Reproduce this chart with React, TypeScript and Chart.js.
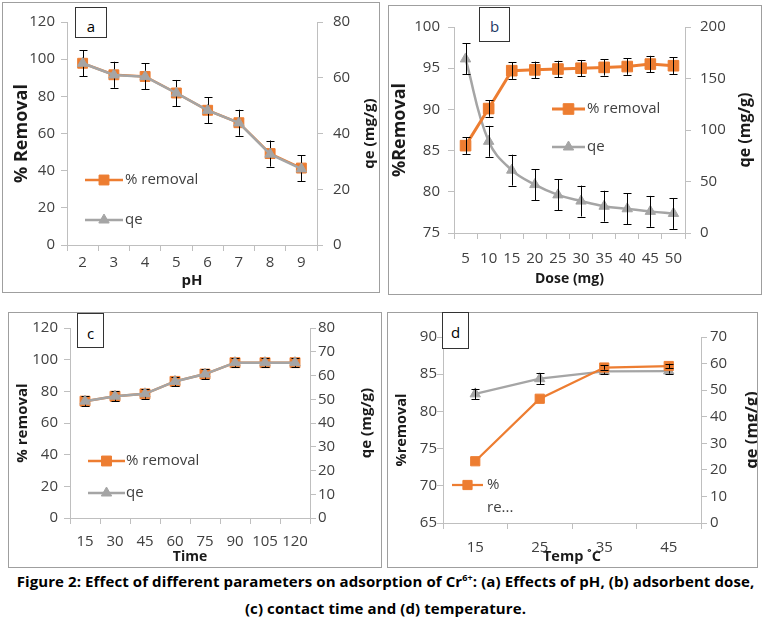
import { useEffect, useRef } from "react"
import { Chart, registerables, type ChartConfiguration, type Plugin } from "chart.js"
import { drawPoint } from "chart.js/helpers"

Chart.register(...registerables)

// (a) effect of pH
const phLabels = ["2", "3", "4", "5", "6", "7", "8", "9"]
const phRemoval = [97.8, 91.6, 90.7, 81.8, 72.5, 65.8, 49.2, 41.4]
const phRemovalErr = [7, 7, 7, 7, 7, 7, 7, 7]
const phQe = [65.2, 61.0, 60.4, 54.5, 48.3, 43.8, 32.6, 27.3]

// (b) adsorbent dose
const doseLabels = ["5", "10", "15", "20", "25", "30", "35", "40", "45", "50"]
const doseRemoval = [85.6, 90.1, 94.7, 94.8, 94.9, 95.0, 95.1, 95.2, 95.5, 95.3]
const doseRemovalErr = [1, 1, 1, 1, 1, 1, 1, 1, 1, 1]
const doseQe = [169, 89, 61, 47, 37, 31, 26, 23.5, 21, 19]
const doseQeErr = [15, 15, 15, 15, 15, 15, 15, 15, 15, 15]

// (c) contact time
const timeLabels = ["15", "30", "45", "60", "75", "90", "105", "120"]
const timeRemoval = [73.8, 76.9, 78.4, 86.3, 90.9, 98.1, 98.1, 98.1]
const timeRemovalErr = [3, 3, 3, 3, 3, 3, 3, 3]
const timeQe = [49.2, 51.3, 52.3, 57.5, 60.6, 65.4, 65.4, 65.4]

// (d) temperature
const tempLabels = ["15", "25", "35", "45"]
const tempRemoval = [73.3, 81.7, 85.9, 86.1]
const tempRemovalErr = [0, 0, 0.3, 0.3]
const tempQe = [48.6, 54.3, 57.1, 57.2]
const tempQeErr = [2, 2, 1, 1]

const ORANGE = "#ED7D31"
const GREY = "#A5A5A5"
const AXIS = "#BFBFBF"
const TICK = "#404040"
const TITLE = "#1A1A1A"
const FONT = "'Open Sans', sans-serif"

type Side = {
  min: number
  max: number
  step: number
  title: string
  titleSize: number
  titlePad: number
  tickPad: number
  width: number
}

type LegendRow = { series: "removal" | "qe"; y: number; text: string[] }

type PanelSpec = {
  letter: string
  letterColor: string
  x: number
  y: number
  w: number
  h: number
  tag: { x: number; y: number; w: number; h: number; pad: number }
  topPad: number
  xTitle: string
  xTitleSize: number
  xTitlePad: number
  xTickPad: number
  xHeight: number
  left: Side
  right: Side
  rightTitleX: number
  labels: string[]
  removal: number[]
  removalErr: number[] | null
  qe: number[]
  qeErr: number[] | null
  removalOnTop: boolean
  lineWidth: number
  qeLineWidth: number
  qeTension: number
  squareR: number
  triR: number
  legend: { x0: number; x1: number; textX: number; rows: LegendRow[] }
}

// error bars drawn right after their own dataset, so later datasets cover them
const errorBars: Plugin<"line"> = {
  id: "errorBars",
  afterDatasetDraw(chart, args) {
    const ds = chart.data.datasets[args.index] as any
    const errs: number[] | null = ds.errors
    if (!errs) return
    const meta = args.meta
    const scale = chart.scales[meta.yAxisID as string]
    const ctx = chart.ctx
    ctx.save()
    ctx.strokeStyle = "#000"
    ctx.lineWidth = 1
    meta.data.forEach((pt, i) => {
      if (!errs[i]) return
      const v = ds.data[i] as number
      const top = scale.getPixelForValue(v + errs[i])
      const bot = scale.getPixelForValue(v - errs[i])
      const x = Math.round(pt.x) + 0.5
      ctx.beginPath()
      ctx.moveTo(x, top)
      ctx.lineTo(x, bot)
      ctx.moveTo(x - 4, Math.round(top) + 0.5)
      ctx.lineTo(x + 4, Math.round(top) + 0.5)
      ctx.moveTo(x - 4, Math.round(bot) + 0.5)
      ctx.lineTo(x + 4, Math.round(bot) + 0.5)
      ctx.stroke()
    })
    ctx.restore()
  },
}

// legend inside the plot area plus the right axis title, which reads bottom-to-top here
function makeOverlay(p: PanelSpec): Plugin<"line"> {
  return {
    id: "overlay",
    afterDraw(chart) {
      const ctx = chart.ctx
      const { x0, x1, textX, rows } = p.legend
      ctx.save()
      rows.forEach((row) => {
        const isRemoval = row.series === "removal"
        const color = isRemoval ? ORANGE : GREY
        ctx.strokeStyle = color
        ctx.fillStyle = color
        ctx.lineWidth = isRemoval ? p.lineWidth : p.qeLineWidth
        ctx.beginPath()
        ctx.moveTo(x0, row.y)
        ctx.lineTo(x1, row.y)
        ctx.stroke()
        ctx.lineWidth = 1
        drawPoint(
          ctx,
          {
            pointStyle: isRemoval ? "rect" : "triangle",
            radius: isRemoval ? p.squareR : p.triR,
            rotation: 0,
            borderWidth: 1,
          },
          (x0 + x1) / 2,
          row.y
        )
        ctx.fillStyle = TICK
        ctx.font = `15px ${FONT}`
        ctx.textBaseline = "middle"
        ctx.textAlign = "left"
        row.text.forEach((t, k) => ctx.fillText(t, textX, row.y + k * 23))
      })

      const area = chart.chartArea
      ctx.translate(p.rightTitleX, (area.top + area.bottom) / 2)
      ctx.rotate(-Math.PI / 2)
      ctx.fillStyle = TITLE
      ctx.font = `bold ${p.right.titleSize}px ${FONT}`
      ctx.textAlign = "center"
      ctx.textBaseline = "middle"
      ctx.fillText(p.right.title, 0, 0)
      ctx.restore()
    },
  }
}

function valueAxis(side: Side, position: "left" | "right") {
  return {
    type: "linear" as const,
    position,
    min: side.min,
    max: side.max,
    afterFit: (s: any) => {
      s.width = side.width
    },
    ticks: {
      stepSize: side.step,
      color: TICK,
      padding: side.tickPad,
      font: { family: FONT, size: 15 },
    },
    grid: {
      drawOnChartArea: false,
      drawTicks: true,
      tickLength: 6,
      color: AXIS,
    },
    border: { display: true, color: AXIS },
    title: {
      display: position === "left",
      text: side.title,
      color: TITLE,
      padding: { top: side.titlePad, bottom: 0 },
      font: { family: FONT, size: side.titleSize, weight: "bold" as const },
    },
  }
}

const panels: PanelSpec[] = [
  {
    letter: "a",
    letterColor: "#000",
    x: 3,
    y: 3,
    w: 376,
    h: 289,
    tag: { x: 75, y: 7, w: 32, h: 31, pad: 10 },
    topPad: 17,
    xTitle: "pH",
    xTitleSize: 15,
    xTitlePad: 2,
    xTickPad: 3,
    xHeight: 47,
    left: { min: 0, max: 120, step: 20, title: "% Removal", titleSize: 18, titlePad: 8, tickPad: 6, width: 64 },
    right: { min: 0, max: 80, step: 20, title: "qe (mg/g)", titleSize: 15, titlePad: 0, tickPad: 10, width: 62 },
    rightTitleX: 367,
    labels: phLabels,
    removal: phRemoval,
    removalErr: phRemovalErr,
    qe: phQe,
    qeErr: null,
    removalOnTop: false,
    lineWidth: 2.5,
    qeLineWidth: 2.5,
    qeTension: 0,
    squareR: 7,
    triR: 6,
    legend: {
      x0: 82,
      x1: 120,
      textX: 122,
      rows: [
        { series: "removal", y: 177, text: ["% removal"] },
        { series: "qe", y: 217, text: ["qe"] },
      ],
    },
  },
  {
    letter: "b",
    letterColor: "#1F3864",
    x: 389,
    y: 6,
    w: 372,
    h: 288,
    tag: { x: 479, y: 7, w: 31, h: 35, pad: 10 },
    topPad: 21,
    xTitle: "Dose (mg)",
    xTitleSize: 14,
    xTitlePad: 7,
    xTickPad: 11,
    xHeight: 61,
    left: { min: 75, max: 100, step: 5, title: "%Removal", titleSize: 18, titlePad: 0, tickPad: 8, width: 65 },
    right: { min: 0, max: 200, step: 50, title: "qe (mg/g)", titleSize: 16, titlePad: 0, tickPad: 9, width: 76 },
    rightTitleX: 356,
    labels: doseLabels,
    removal: doseRemoval,
    removalErr: doseRemovalErr,
    qe: doseQe,
    qeErr: doseQeErr,
    removalOnTop: true,
    lineWidth: 3,
    qeLineWidth: 2.5,
    qeTension: 0.4,
    squareR: 7.5,
    triR: 6,
    legend: {
      x0: 163,
      x1: 196,
      textX: 198,
      rows: [
        { series: "removal", y: 103, text: ["% removal"] },
        { series: "qe", y: 141, text: ["qe"] },
      ],
    },
  },
  {
    letter: "c",
    letterColor: "#000",
    x: 9,
    y: 313,
    w: 372,
    h: 254,
    tag: { x: 77, y: 313, w: 27, h: 35, pad: 11 },
    topPad: 13,
    xTitle: "Time",
    xTitleSize: 14,
    xTitlePad: 2,
    xTickPad: 9,
    xHeight: 49,
    left: { min: 0, max: 120, step: 20, title: "% removal", titleSize: 15, titlePad: 5, tickPad: 6, width: 61 },
    right: { min: 0, max: 80, step: 10, title: "qe (mg/g)", titleSize: 15, titlePad: 0, tickPad: 2, width: 71 },
    rightTitleX: 358,
    labels: timeLabels,
    removal: timeRemoval,
    removalErr: timeRemovalErr,
    qe: timeQe,
    qeErr: null,
    removalOnTop: false,
    lineWidth: 2.5,
    qeLineWidth: 2.5,
    qeTension: 0,
    squareR: 7,
    triR: 6,
    legend: {
      x0: 79,
      x1: 116,
      textX: 117,
      rows: [
        { series: "removal", y: 148, text: ["% removal"] },
        { series: "qe", y: 180, text: ["qe"] },
      ],
    },
  },
  {
    letter: "d",
    letterColor: "#000",
    x: 388,
    y: 313,
    w: 369,
    h: 254,
    tag: { x: 442, y: 312, w: 27, h: 37, pad: 11 },
    topPad: 24,
    xTitle: "Temp ˚C",
    xTitleSize: 14.5,
    xTitlePad: 1,
    xTickPad: 10,
    xHeight: 44,
    left: { min: 65, max: 90, step: 5, title: "%removal", titleSize: 14.5, titlePad: 5, tickPad: 0, width: 55 },
    right: { min: 0, max: 70, step: 10, title: "qe (mg/g)", titleSize: 16.5, titlePad: 0, tickPad: 3, width: 56 },
    rightTitleX: 364,
    labels: tempLabels,
    removal: tempRemoval,
    removalErr: tempRemovalErr,
    qe: tempQe,
    qeErr: tempQeErr,
    removalOnTop: true,
    lineWidth: 2.25,
    qeLineWidth: 2.25,
    qeTension: 0,
    squareR: 6.5,
    triR: 6,
    legend: {
      x0: 64,
      x1: 95,
      textX: 99,
      rows: [{ series: "removal", y: 172, text: ["%", "re..."] }],
    },
  },
]

function ChartPanel({ p }: { p: PanelSpec }) {
  const chartRef = useRef<HTMLCanvasElement>(null)
  const chartInstance = useRef<Chart | null>(null)

  useEffect(() => {
    if (!chartRef.current) return
    if (chartInstance.current) chartInstance.current.destroy()

    const config: ChartConfiguration<"line"> = {
      type: "line",
      data: {
        labels: p.labels,
        datasets: [
          {
            label: "% removal",
            data: p.removal,
            yAxisID: "y",
            borderColor: ORANGE,
            backgroundColor: ORANGE,
            borderWidth: p.lineWidth,
            pointStyle: "rect",
            pointRadius: p.squareR,
            pointBorderWidth: 1,
            pointBorderColor: ORANGE,
            pointBackgroundColor: ORANGE,
            tension: 0,
            order: p.removalOnTop ? 0 : 1,
            errors: p.removalErr,
          } as any,
          {
            label: "qe",
            data: p.qe,
            yAxisID: "y1",
            borderColor: GREY,
            backgroundColor: GREY,
            borderWidth: p.qeLineWidth,
            pointStyle: "triangle",
            pointRadius: p.triR,
            pointBorderWidth: 1,
            pointBorderColor: GREY,
            pointBackgroundColor: GREY,
            tension: p.qeTension,
            order: p.removalOnTop ? 1 : 0,
            errors: p.qeErr,
          } as any,
        ],
      },
      options: {
        responsive: false,
        animation: false,
        events: [],
        layout: { padding: { top: p.topPad, left: 0, right: 0, bottom: 0 } },
        plugins: {
          legend: { display: false },
          tooltip: { enabled: false },
        },
        scales: {
          x: {
            type: "category",
            offset: true,
            afterFit: (s: any) => {
              s.height = p.xHeight
            },
            ticks: {
              color: TICK,
              padding: p.xTickPad,
              maxRotation: 0,
              autoSkip: false,
              font: { family: FONT, size: 15 },
            },
            grid: {
              offset: true,
              drawOnChartArea: false,
              drawTicks: true,
              tickLength: 6,
              color: AXIS,
            },
            border: { display: true, color: AXIS },
            title: {
              display: true,
              text: p.xTitle,
              color: TITLE,
              padding: { top: 0, bottom: p.xTitlePad },
              font: { family: FONT, size: p.xTitleSize, weight: "bold" },
            },
          },
          y: valueAxis(p.left, "left"),
          y1: valueAxis(p.right, "right"),
        },
      },
      plugins: [errorBars, makeOverlay(p)],
    }

    chartInstance.current = new Chart(chartRef.current, config)

    return () => {
      if (chartInstance.current) {
        chartInstance.current.destroy()
        chartInstance.current = null
      }
    }
  }, [p])

  return (
    <>
      <div
        style={{
          position: "absolute",
          left: p.x - 1,
          top: p.y - 1,
          width: p.w + 2,
          height: p.h + 2,
          boxSizing: "border-box",
          border: "1px solid #9F9F9F",
        }}
      >
        <canvas ref={chartRef} width={p.w} height={p.h} style={{ width: p.w, height: p.h, display: "block" }} />
      </div>
      <div
        style={{
          position: "absolute",
          left: p.tag.x,
          top: p.tag.y,
          width: p.tag.w,
          height: p.tag.h,
          boxSizing: "border-box",
          border: "1px solid #333",
          background: "#fff",
          color: p.letterColor,
          fontSize: 15,
          lineHeight: "16px",
          paddingTop: p.tag.pad,
          textAlign: "center",
        }}
      >
        {p.letter}
      </div>
    </>
  )
}

export default function App() {
  return (
    <div
      style={{
        position: "absolute",
        left: 0,
        top: 0,
        width: 771,
        height: 629,
        background: "#fff",
        fontFamily: FONT,
      }}
    >
      {panels.map((p) => (
        <ChartPanel key={p.letter} p={p} />
      ))}
      <div
        style={{
          position: "absolute",
          left: 0,
          top: 568,
          width: 771,
          textAlign: "center",
          fontSize: 15,
          letterSpacing: 0.1,
          fontWeight: "bold",
          lineHeight: "27px",
          color: "#000",
        }}
      >
        <div>
          Figure 2: Effect of different parameters on adsorption of Cr
          <sup style={{ fontSize: 9, lineHeight: 0 }}>6+</sup>: (a) Effects of pH, (b) adsorbent dose,
        </div>
        <div>(c) contact time and (d) temperature.</div>
      </div>
    </div>
  )
}
